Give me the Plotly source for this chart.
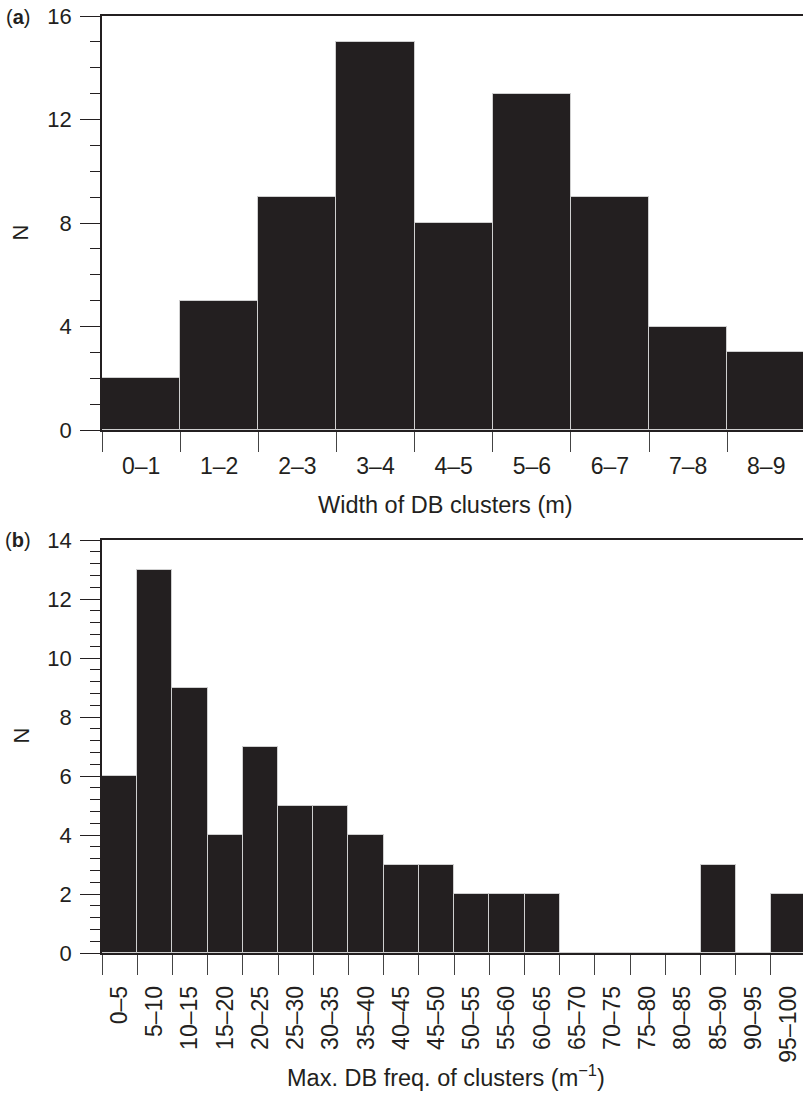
import plotly.graph_objects as go

W, H = 803, 1097

# Panel (a) data
width_bins = ["0–1", "1–2", "2–3", "3–4", "4–5", "5–6", "6–7", "7–8", "8–9"]
width_counts = [2, 5, 9, 15, 8, 13, 9, 4, 3]

# Panel (b) data
freq_bins = ["0–5", "5–10", "10–15", "15–20", "20–25", "25–30", "30–35", "35–40",
             "40–45", "45–50", "50–55", "55–60", "60–65", "65–70", "70–75",
             "75–80", "80–85", "85–90", "90–95", "95–100"]
freq_counts = [6, 13, 9, 4, 7, 5, 5, 4, 3, 3, 2, 2, 2, 0, 0, 0, 0, 3, 0, 2]

FONT = "Liberation Sans, Arial, Helvetica, sans-serif"
INK = "#231f20"
BAR = "#231f20"
EDGE = "#cfcfcf"

def py(pix):
    return 1 - pix / H

fig = go.Figure()
fig.add_trace(go.Bar(x=width_bins, y=width_counts, marker=dict(color=BAR, line=dict(color=EDGE, width=1)),
                     xaxis="x", yaxis="y", showlegend=False))
fig.add_trace(go.Bar(x=freq_bins, y=freq_counts, marker=dict(color=BAR, line=dict(color=EDGE, width=1)),
                     xaxis="x2", yaxis="y2", showlegend=False))

xdom = [102 / W, 1.0]
common_x = dict(type="category", showline=True, linecolor=INK, linewidth=1.5, mirror=True,
                ticks="outside", tickson="boundaries", ticklen=20, tickwidth=1.2, tickcolor="#444",
                showgrid=False, zeroline=False, domain=xdom, automargin=False,
                tickfont=dict(family=FONT, size=23, color=INK))
common_y = dict(showline=True, linecolor=INK, linewidth=1.5, ticks="outside", ticklen=20,
                tickwidth=1.2, tickcolor=INK, showgrid=False, zeroline=False, automargin=False,
                ticklabelstandoff=4,
                tickfont=dict(family=FONT, size=22, color=INK))

fig.update_layout(
    width=W, height=H, margin=dict(l=0, r=0, t=0, b=0, autoexpand=False),
    paper_bgcolor="white", plot_bgcolor="white", bargap=0,
    xaxis=dict(common_x, anchor="y", range=[-0.5, 8.47], tickangle=0, ticklabelstandoff=15),
    yaxis=dict(common_y, anchor="x", domain=[py(430), py(16)], range=[0, 16], tickvals=[0, 4, 8, 12, 16],
               minor=dict(dtick=1, ticklen=10, ticks="outside", tickcolor=INK, tickwidth=1.2)),
    xaxis2=dict(common_x, anchor="y2", range=[-0.5, 19.41], tickangle=-90, ticklabelstandoff=22),
    yaxis2=dict(common_y, anchor="x2", domain=[py(953), py(540)], range=[0, 14], dtick=2,
                minor=dict(dtick=0.4, ticklen=10, ticks="outside", tickcolor=INK, tickwidth=1.2)),
    font=dict(family=FONT, color=INK),
)

ann = [
    dict(text="(<b>a</b>)", x=18 / W, y=py(17)),
    dict(text="(<b>b</b>)", x=18 / W, y=py(540)),
]
for a in ann:
    fig.add_annotation(xref="paper", yref="paper", showarrow=False, xanchor="center", yanchor="middle",
                       font=dict(family=FONT, size=20, color=INK), **a)

fig.add_annotation(text="N", xref="paper", yref="paper", x=6 / W, y=py(223), textangle=-90,
                   showarrow=False, font=dict(family=FONT, size=22, color=INK))
fig.add_annotation(text="N", xref="paper", yref="paper", x=6 / W, y=py(746), textangle=-90,
                   showarrow=False, font=dict(family=FONT, size=22, color=INK))
fig.add_annotation(text="Width of DB clusters (m)", xref="paper", yref="paper", x=445 / W, y=py(505),
                   showarrow=False, font=dict(family=FONT, size=23.5, color=INK))
fig.add_annotation(text="Max. DB freq. of clusters (m<sup>−1</sup>)", xref="paper", yref="paper",
                   x=446 / W, y=py(1093), showarrow=False, font=dict(family=FONT, size=23.5, color=INK))

fig.write_html("out.html", config={"displayModeBar": False},
               post_script="document.body.style.margin='0px';")
